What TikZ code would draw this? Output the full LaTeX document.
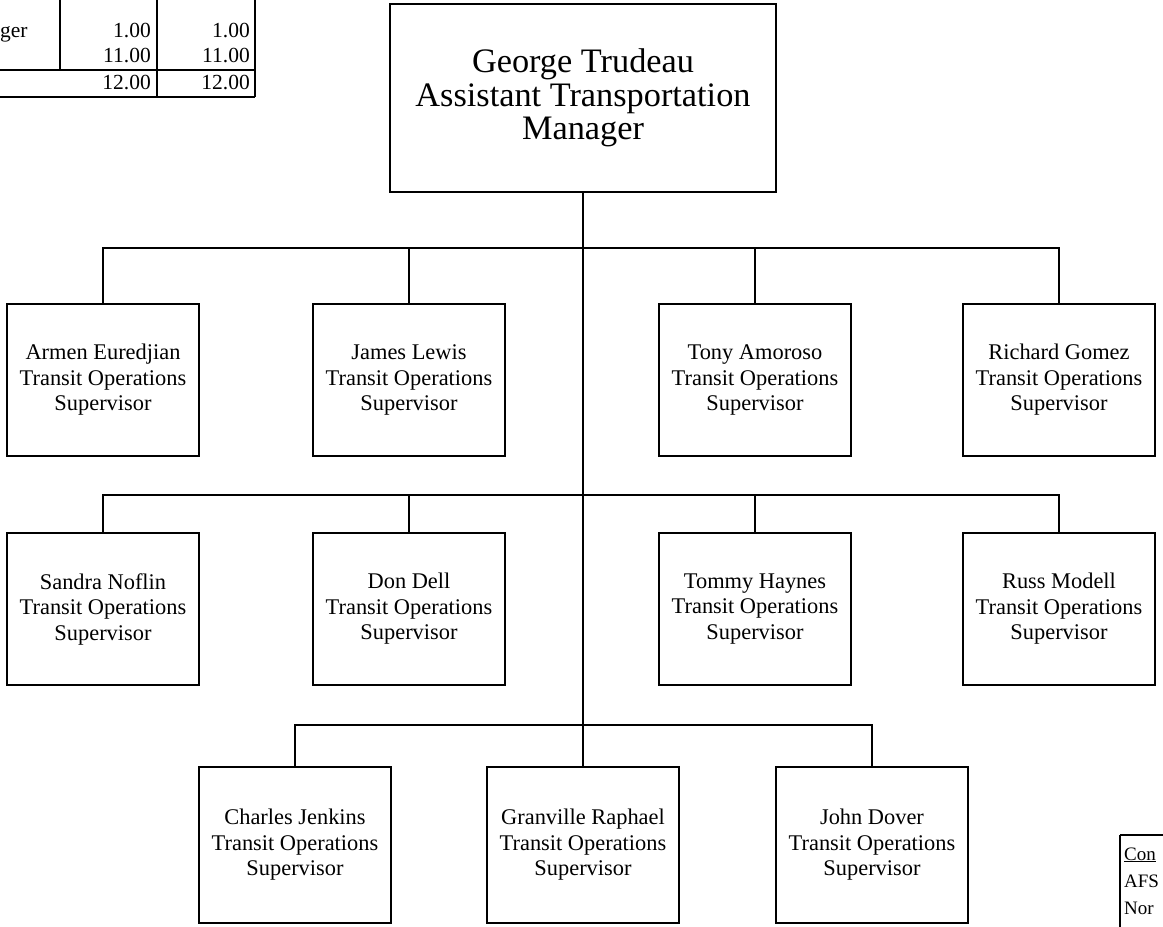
\documentclass[tikz,border=0pt]{standalone}
\usepackage{fontspec}
\setmainfont{Liberation Serif}
\begin{document}
\begin{tikzpicture}[x=1pt,y=-1pt,
  emp/.style={draw, line width=2.7pt, minimum width=192pt, minimum height=152pt,
    inner sep=0pt, align=center, font=\fontsize{22.4}{25.5}\selectfont},
  boss/.style={draw, line width=2.8pt, minimum width=386pt, minimum height=188pt,
    inner sep=0pt, align=center, font=\fontsize{34.3}{33.5}\selectfont},
  conn/.style={line width=2.3pt},
  rule/.style={line width=2.6pt},
  num/.style={anchor=base east, inner sep=0pt, font=\fontsize{21.5}{24}\selectfont},
  lbl/.style={anchor=base west, inner sep=0pt, font=\fontsize{19}{22}\selectfont}]
\useasboundingbox (0,0) rectangle (1163,927);
\clip (0,0) rectangle (1163,927);

% top-left table fragment
\draw[rule] (60,-2) -- (60,70);
\draw[rule] (157,-2) -- (157,97);
\draw[rule] (255,-2) -- (255,97);
\draw[rule] (-2,70) -- (255,70);
\draw[rule] (-2,97) -- (255,97);
\node[lbl, font=\fontsize{21.5}{24}\selectfont] (tg) at (0,37) {ger};
\node[num] (t11) at (151,37) {1.00};
\node[num] (t12) at (250,37) {1.00};
\node[num] (t21) at (151,62) {11.00};
\node[num] (t22) at (250,62) {11.00};
\node[num] (t31) at (151,89) {12.00};
\node[num] (t32) at (250,89) {12.00};

% bottom-right table fragment
\draw[rule] (1120,835) -- (1120,940);
\draw[rule] (1120,835) -- (1170,835);
\node[lbl] (c1) at (1124,860) {\underline{Con}};
\node[lbl] (c2) at (1124,887) {AFS};
\node[lbl] (c3) at (1124,914) {Nor};

% org chart
\node[boss] (top) at (583,98) {George Trudeau\\Assistant Transportation\\Manager};

\node[emp] (armen) at (103,380) {Armen Euredjian\\Transit Operations\\Supervisor};
\node[emp] (james) at (409,380) {James Lewis\\Transit Operations\\Supervisor};
\node[emp] (tony)  at (755,380) {Tony Amoroso\\Transit Operations\\Supervisor};
\node[emp] (rich)  at (1059,380) {Richard Gomez\\Transit Operations\\Supervisor};

\node[emp] (sandra) at (103,609) {Sandra Noflin\\Transit Operations\\Supervisor};
\node[emp] (don)    at (409,609) {Don Dell\\Transit Operations\\Supervisor};
\node[emp] (tommy)  at (755,609) {Tommy Haynes\\Transit Operations\\Supervisor};
\node[emp] (russ)   at (1059,609) {Russ Modell\\Transit Operations\\Supervisor};

\node[emp, minimum height=156pt] (charles) at (295,845) {Charles Jenkins\\Transit Operations\\Supervisor};
\node[emp, minimum height=156pt] (gran)    at (583,845) {Granville Raphael\\Transit Operations\\Supervisor};
\node[emp, minimum height=156pt] (john)    at (872,845) {John Dover\\Transit Operations\\Supervisor};

\coordinate (bus1) at (583,248);
\coordinate (bus2) at (583,495);
\coordinate (bus3) at (583,725);

\draw[conn] (top.south) -- (gran.north);
\draw[conn] (armen.north) |- (bus1) -| (rich.north);
\draw[conn] (james.north) -- (james.north |- bus1);
\draw[conn] (tony.north) -- (tony.north |- bus1);
\draw[conn] (sandra.north) |- (bus2) -| (russ.north);
\draw[conn] (don.north) -- (don.north |- bus2);
\draw[conn] (tommy.north) -- (tommy.north |- bus2);
\draw[conn] (charles.north) |- (bus3) -| (john.north);
\end{tikzpicture}
\end{document}
